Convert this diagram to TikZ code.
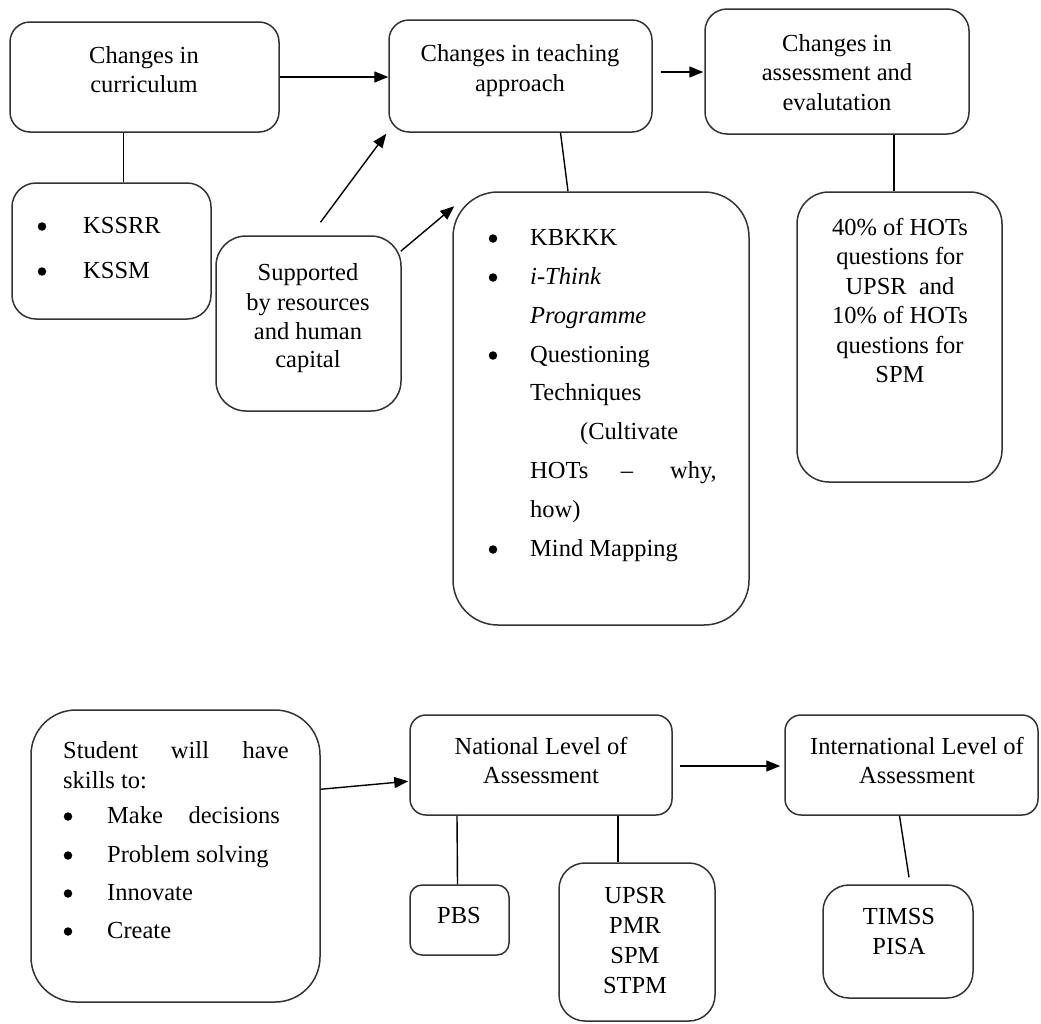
\documentclass[tikz,border=0pt]{standalone}
\usepackage{fontspec}
\setmainfont{Liberation Serif}
\usetikzlibrary{arrows.meta,calc}
\begin{document}
\begin{tikzpicture}[x={(1pt,0)},y={(0,-1pt)},
  box/.style={draw=black!80, line width=1.5pt, rounded corners=#1, inner sep=0pt},
  box/.default=18pt,
  txt/.style={anchor=base, inner sep=0pt, font=\fontsize{24.5}{29}\selectfont},
  ltxt/.style={txt, anchor=base west},
  rtxt/.style={txt, anchor=base east},
  dot/.style={circle, fill=black, draw=none, inner sep=0pt, minimum size=8.5pt},
  conn/.style={line width=1.4pt, black},
  arr/.style={conn, -{Triangle[length=14pt,width=11pt]}}]
\useasboundingbox (0,0) rectangle (1041,1023);
% ---------- boxes ----------
\node[box=20pt, minimum width=269pt, minimum height=110pt] (curr) at (144.5,77) {};
\node[box=24pt, minimum width=199pt, minimum height=136pt] (kssrr) at (111.5,251) {};
\node[box=30pt, minimum width=185pt, minimum height=175pt] (sup) at (308.5,323.5) {};
\node[box=20pt, minimum width=263pt, minimum height=112pt] (teach) at (520.5,76) {};
\node[box=22pt, minimum width=264pt, minimum height=125pt] (assess) at (837,71.5) {};
\node[box=45pt, minimum width=296pt, minimum height=433pt] (kb) at (601,408.5) {};
\node[box=32pt, minimum width=205pt, minimum height=290pt] (pct) at (899.5,337) {};
\node[box=45pt, minimum width=289pt, minimum height=292pt] (stud) at (175.5,856) {};
\node[box=16pt, minimum width=262pt, minimum height=100pt] (nat) at (541,765) {};
\node[box=12pt, minimum width=99pt, minimum height=70pt] (pbs) at (459.5,920) {};
\node[box=26pt, minimum width=156pt, minimum height=158pt] (upsr) at (637,942) {};
\node[box=16pt, minimum width=253pt, minimum height=100pt] (intl) at (911.5,765) {};
\node[box=26pt, minimum width=150pt, minimum height=113pt] (timss) at (898,941.5) {};
% ---------- texts ----------
\node[txt] (c1) at (144,63) {Changes in};
\node[txt] (c2) at (144,92) {curriculum};
\node[txt] (t1) at (520,61) {Changes in teaching};
\node[txt] (t2) at (520,91) {approach};
\node[txt] (a1) at (837,51) {Changes in};
\node[txt] (a2) at (837,80) {assessment and};
\node[txt] (a3) at (837,110) {evalutation};
\node[dot] (kb1) at (42,226.5) {};
\node[ltxt] (k1) at (83,233) {KSSRR};
\node[dot] (kb2) at (42,271.5) {};
\node[ltxt] (k2) at (83,278) {KSSM};
\node[txt] (s1) at (308,280) {Supported};
\node[txt] (s2) at (308,310) {by resources};
\node[txt] (s3) at (308,339) {and human};
\node[txt] (s4) at (308,367) {capital};
% teaching list
\node[dot] (b1) at (493,238.5) {};
\node[ltxt] (l1) at (530,245) {KBKKK};
\node[dot] (b2) at (493,277.5) {};
\node[ltxt] (l2) at (530,284) {\itshape i-Think};
\node[ltxt] (l3) at (530,323) {\itshape Programme};
\node[dot] (b4) at (493,355.5) {};
\node[ltxt] (l4) at (530,362) {Questioning};
\node[ltxt] (l5) at (530,400) {Techniques};
\node[ltxt] (l6) at (580,439) {(Cultivate};
\node[ltxt] (l7a) at (530,478) {HOTs};
\node[txt] (l7b) at (627,478) {–};
\node[rtxt] (l7c) at (717,478) {why,};
\node[ltxt] (l8) at (530,517) {how)};
\node[dot] (b9) at (493,549.5) {};
\node[ltxt] (l9) at (530,556) {Mind Mapping};
% percentages
\node[txt] (p1) at (900,235) {40\% of HOTs};
\node[txt] (p2) at (900,264.5) {questions for};
\node[txt] (p3) at (900,294) {UPSR\ \ and};
\node[txt] (p4) at (900,323.5) {10\% of HOTs};
\node[txt] (p5) at (900,353) {questions for};
\node[txt] (p6) at (900,382.5) {SPM};
% student
\node[ltxt] (st1a) at (63,758) {Student};
\node[txt] (st1b) at (190,758) {will};
\node[rtxt] (st1c) at (289,758) {have};
\node[ltxt] (st2) at (63,788) {skills\ to:};
\node[dot] (sb1) at (68,816.5) {};
\node[ltxt] (si1a) at (107,823) {Make};
\node[rtxt] (si1b) at (280,823) {decisions};
\node[dot] (sb2) at (68,855.5) {};
\node[ltxt] (si2) at (107,862) {Problem solving};
\node[dot] (sb3) at (68,893.5) {};
\node[ltxt] (si3) at (107,900) {Innovate};
\node[dot] (sb4) at (68,931.5) {};
\node[ltxt] (si4) at (107,938) {Create};
% national / international
\node[txt] (n1) at (541,754) {National Level of};
\node[txt] (n2) at (541,783) {Assessment};
\node[txt] (i1) at (917,754) {International Level of};
\node[txt] (i2) at (917,783) {Assessment};
\node[txt] (pb) at (459,923) {PBS};
\node[txt] (u1) at (635,903) {UPSR};
\node[txt] (u2) at (635,933) {PMR};
\node[txt] (u3) at (635,963) {SPM};
\node[txt] (u4) at (635,993) {STPM};
\node[txt] (ti1) at (899,924) {TIMSS};
\node[txt] (ti2) at (899,954) {PISA};
% ---------- connectors ----------
\draw[arr] (curr.east) -- (curr.east -| teach.west);
\draw[arr] ($(sup.north)+(12,-13)$) -- ($(teach.south west)+(-2,1)$);
\draw[arr] ($(sup.north east)+(-1,16)$) -- ($(kb.north west)+(2,15)$);
\draw[arr] ($(teach.east)+(8,-4)$) -- ($(assess.west)+(-1,0.5)$);
\draw[conn] ($(teach.south)+(40,0)$) -- ($(kb.north)+(-33,0)$);
\draw[conn] ($(kssrr.north)+(12,0)$) -- ($(curr.south)+(-21,0)$);
\draw[conn] ($(pct.north)+(-5.5,0)$) -- ($(assess.south)+(57,0)$);
\draw[arr] ($(stud.north east)+(0,80)$) -- ($(nat.north west)+(-1,67)$);
\draw[arr] ($(nat.east)+(7,1)$) -- ($(intl.west)+(-4,1)$);
\draw[conn] ($(pbs.north)+(-2,0)$) -- ($(nat.south)+(-84,0)$);
\draw[conn] ($(upsr.north)+(-19,0)$) -- ($(nat.south)+(77,0)$);
\draw[conn] ($(intl.south)+(-12,0)$) -- ($(timss.north)+(11,-7)$);
\end{tikzpicture}
\end{document}
